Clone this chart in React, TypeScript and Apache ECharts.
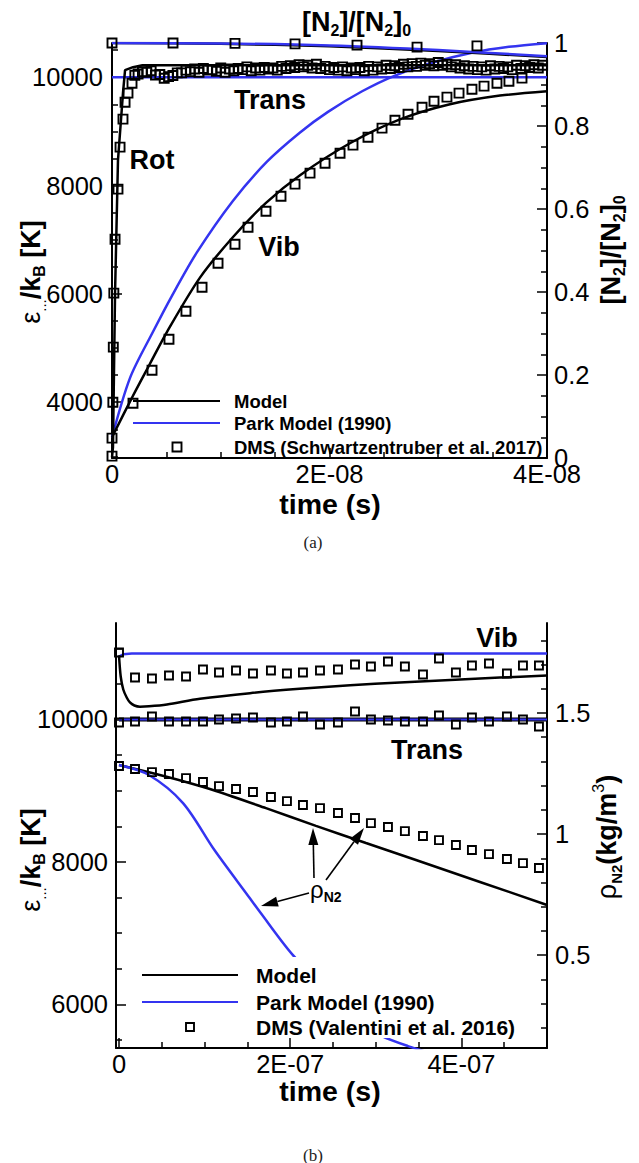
import React, { useEffect, useRef } from "react";
import * as echarts from "echarts";

const SANS = "'Liberation Sans', Arial, Helvetica, sans-serif";
const SERIF = "'Liberation Serif', 'Times New Roman', serif";
const BLUE = "#3434f0";
const BLACK = "#000000";

// ================= Panel (a): times in ns =================
const aTimeTicks = [0, 2e-8, 4e-8];
const aTimeLabels = ["0", "2E-08", "4E-08"];
const aTimeMinor = [5e-9, 1e-8, 1.5e-8, 2.5e-8, 3e-8, 3.5e-8];
const aTempTicks = [4000, 6000, 8000, 10000];
const aTempLabels = ["4000", "6000", "8000", "10000"];
const aTempMinor = [3000, 3500, 4500, 5000, 5500, 6500, 7000, 7500, 8500, 9000, 9500, 10500];
const aFracTicks = [0, 0.2, 0.4, 0.6, 0.8, 1];
const aFracLabels = ["0", "0.2", "0.4", "0.6", "0.8", "1"];
const aFracMinor = [0.05, 0.1, 0.15, 0.25, 0.3, 0.35, 0.45, 0.5, 0.55, 0.65, 0.7, 0.75, 0.85, 0.9, 0.95];

// Model
const aModelRotT = [0, 0.09, 0.28, 0.55, 1.01, 1.2, 1.93, 2.8, 40];
const aModelRotV = [2980, 3170, 6013, 8468, 9705, 10129, 10185, 10222, 10222];
const aModelVibT = [0, 1.93, 3.49, 5.06, 8.09, 11.13, 14.16, 17.29, 21.88, 26.48, 31.08, 35.68, 40];
const aModelVibV = [3354, 4120, 4710, 5300, 6300, 7050, 7680, 8191, 8780, 9220, 9500, 9660, 9742];
const aModelN2T = [0, 10, 20, 30, 40];
const aModelN2V = [1, 0.998, 0.992, 0.981, 0.966];
// Park Model (1990)
const aParkTransT = [0, 40];
const aParkTransV = [10000, 10000];
const aParkVibT = [0, 1.66, 3.77, 5.5, 7.82, 11.13, 14.25, 17.29, 19.86, 23, 26.02, 29.5, 33.1, 36.5, 40];
const aParkVibV = [3350, 4450, 5300, 5960, 6770, 7720, 8440, 8980, 9360, 9740, 10030, 10270, 10450, 10560, 10628];
const aParkN2T = [0, 10, 20, 30, 40];
const aParkN2V = [1, 0.999, 0.994, 0.983, 0.968];
// DMS (Schwartzentruber et al. 2017)
const aDmsRiseT = [0, 0.08, 0.12, 0.17, 0.28, 0.55, 0.74, 1.01, 1.2, 1.47, 1.84, 2.1];
const aDmsRiseV = [3004, 4000, 5016, 6013, 7009, 7933, 8708, 9225, 9538, 9705, 9889, 10037];
const aDmsTransT = [2.4, 3.2, 4.0, 4.8, 5.6, 6.4, 7.2, 8.0, 8.8, 9.6, 10.4, 11.2, 12.0, 12.8, 13.6, 14.4, 15.2, 16.0, 16.8, 17.6, 18.4, 19.2, 20.0, 20.8, 21.6, 22.4, 23.2, 24.0, 24.8, 25.6, 26.4, 27.2, 28.0, 28.8, 29.6, 30.4, 31.2, 32.0, 32.8, 33.6, 34.4, 35.2, 36.0, 36.8, 37.6, 38.4, 39.2];
const aDmsTransV = [10060, 10090, 10040, 9980, 10030, 10080, 10100, 10090, 10130, 10110, 10090, 10120, 10140, 10120, 10130, 10150, 10130, 10160, 10180, 10190, 10170, 10160, 10140, 10130, 10120, 10140, 10120, 10130, 10150, 10160, 10180, 10190, 10200, 10220, 10210, 10220, 10190, 10170, 10150, 10140, 10130, 10150, 10160, 10140, 10160, 10180, 10170];
const aDmsRotT = [2.8, 3.6, 4.4, 5.2, 6.0, 6.8, 7.6, 8.4, 9.2, 10.0, 10.8, 11.6, 12.4, 13.2, 14.0, 14.8, 15.6, 16.4, 17.2, 18.0, 18.8, 19.6, 20.4, 21.2, 22.0, 22.8, 23.6, 24.4, 25.2, 26.0, 26.8, 27.6, 28.4, 29.2, 30.0, 30.8, 31.6, 32.4, 33.2, 34.0, 34.8, 35.6, 36.4, 37.2, 38.0, 38.8, 39.6];
const aDmsRotV = [10100, 10120, 10050, 10010, 10080, 10130, 10150, 10160, 10140, 10170, 10150, 10160, 10190, 10170, 10180, 10170, 10200, 10210, 10230, 10220, 10240, 10200, 10180, 10190, 10170, 10180, 10200, 10190, 10220, 10210, 10240, 10250, 10260, 10250, 10270, 10240, 10230, 10210, 10200, 10190, 10210, 10200, 10190, 10220, 10210, 10230, 10220];
const aDmsVibT = [0, 1.93, 3.68, 5.24, 6.8, 8.28, 9.75, 11.31, 12.51, 14.16, 15.54, 16.83, 18.21, 19.59, 20.97, 22.16, 23.54, 24.83, 26.02, 27.22, 28.51, 29.61, 30.8, 31.91, 33.1, 34.21, 35.4, 36.5, 37.7];
const aDmsVibV = [3336, 3982, 4591, 5163, 5680, 6123, 6566, 6917, 7231, 7526, 7803, 8025, 8228, 8412, 8597, 8745, 8892, 9059, 9206, 9317, 9446, 9557, 9631, 9705, 9778, 9834, 9889, 9926, 9982];
const aDmsN2T = [0, 5.61, 11.31, 16.83, 22.53, 28.05, 33.56];
const aDmsN2V = [1, 1, 0.999, 0.998, 0.995, 0.99, 0.993];

// ================= Panel (b): times in units of 1e-7 s =================
const bTimeTicks = [0, 2e-7, 4e-7];
const bTimeLabels = ["0", "2E-07", "4E-07"];
const bTimeMinor = [5e-8, 1e-7, 1.5e-7, 2.5e-7, 3e-7, 3.5e-7, 4.5e-7];
const bTempTicks = [6000, 8000, 10000];
const bTempLabels = ["6000", "8000", "10000"];
const bTempMinor = [5500, 6500, 7000, 7500, 8500, 9000, 9500, 10500, 11000];
const bRhoTicks = [0.5, 1, 1.5];
const bRhoLabels = ["0.5", "1", "1.5"];
const bRhoMinor = [0.2, 0.3, 0.4, 0.6, 0.7, 0.8, 0.9, 1.1, 1.2, 1.3, 1.4, 1.6, 1.7, 1.8];

// Model
const bModelTransT = [0, 5];
const bModelTransV = [10000, 10000];
const bModelVibT = [0, 0.02, 0.05, 0.09, 0.128, 0.18, 0.245, 0.35, 0.56, 0.946, 1.53, 2.11, 2.7, 3.28, 3.87, 4.45, 5.0];
const bModelVibV = [10900, 10604, 10421, 10309, 10239, 10196, 10180, 10185, 10211, 10290, 10370, 10430, 10480, 10520, 10555, 10588, 10618];
const bModelRhoT = [0, 0.362, 0.75, 1.133, 1.717, 2.301, 2.885, 3.469, 4.217, 5.0];
const bModelRhoV = [1.285, 1.254, 1.218, 1.178, 1.107, 1.034, 0.963, 0.893, 0.802, 0.707];
// Park Model (1990)
const bParkTransT = [0, 5];
const bParkTransV = [10000, 10000];
const bParkVibT = [0, 0.05, 0.15, 5.0];
const bParkVibV = [10884, 10915, 10926, 10926];
const bParkRhoT = [0, 0.35, 0.748, 1.115, 1.518, 1.647, 2.032, 2.581, 2.873, 3.072, 3.376, 3.749];
const bParkRhoV = [1.285, 1.244, 1.128, 0.934, 0.74, 0.678, 0.5, 0.302, 0.211, 0.165, 0.124, 0.083];
// DMS (Valentini et al. 2016)
const bDmsT = [0, 0.187, 0.385, 0.584, 0.783, 0.981, 1.168, 1.367, 1.565, 1.775, 1.962, 2.149, 2.348, 2.558, 2.757, 2.943, 3.142, 3.34, 3.551, 3.738, 3.936, 4.123, 4.322, 4.532, 4.719, 4.906];
const bDmsVibV = [10940, 10589, 10575, 10618, 10604, 10702, 10660, 10688, 10646, 10688, 10646, 10660, 10688, 10702, 10772, 10744, 10814, 10744, 10632, 10856, 10660, 10758, 10786, 10646, 10758, 10758];
const bDmsTransV = [9958, 9972, 10042, 9972, 9972, 9972, 10000, 10014, 10028, 9958, 9972, 10042, 9930, 9958, 10112, 10000, 9986, 9972, 9972, 10056, 9930, 10028, 9972, 10042, 10000, 9902];
const bDmsRhoV = [1.281, 1.269, 1.256, 1.248, 1.231, 1.215, 1.198, 1.186, 1.174, 1.153, 1.136, 1.12, 1.107, 1.087, 1.066, 1.045, 1.029, 1.012, 0.992, 0.975, 0.955, 0.934, 0.917, 0.897, 0.88, 0.86];

const NS = 1e-9;
const E7 = 1e-7;
const toPairs = (t: number[], v: number[], unit: number) => t.map((x, i) => [x * unit, v[i]]);

const pickLabel = (ticks: number[], labels: string[]) => (value: number) => {
  let best = 0;
  for (let i = 1; i < ticks.length; i++) {
    if (Math.abs(ticks[i] - value) < Math.abs(ticks[best] - value)) best = i;
  }
  return labels[best];
};

const tickLine = { color: BLACK, width: 1.5 };

function majorAxis(gridIndex: number, min: number, max: number, ticks: number[], labels: string[], position: string, margin: number) {
  return {
    type: "value",
    gridIndex,
    min,
    max,
    position,
    axisLine: { show: true, onZero: false, lineStyle: { color: BLACK, width: 2 } },
    axisTick: { show: true, inside: true, length: 10, customValues: ticks, lineStyle: tickLine },
    axisLabel: {
      show: true,
      customValues: ticks,
      formatter: pickLabel(ticks, labels),
      fontFamily: SANS,
      fontSize: 25.5,
      lineHeight: 16,
      color: BLACK,
      margin,
    },
    splitLine: { show: false },
  };
}

function minorAxis(gridIndex: number, min: number, max: number, ticks: number[], position: string) {
  return {
    type: "value",
    gridIndex,
    min,
    max,
    position,
    axisLine: { show: false, onZero: false },
    axisTick: { show: true, inside: true, length: 6, customValues: ticks, lineStyle: tickLine },
    axisLabel: { show: false },
    splitLine: { show: false },
  };
}

function line(data: number[][], xi: number, yi: number, color: string, width: number, z: number, smooth: number | boolean) {
  return {
    type: "line",
    data,
    xAxisIndex: xi,
    yAxisIndex: yi,
    symbol: "none",
    showSymbol: false,
    smooth,
    clip: true,
    silent: true,
    z,
    lineStyle: { color, width, opacity: 1 },
    itemStyle: { color },
  };
}

function squares(data: number[][], xi: number, yi: number, size: number) {
  return {
    type: "scatter",
    data,
    xAxisIndex: xi,
    yAxisIndex: yi,
    symbol: "rect",
    symbolSize: size,
    clip: false,
    silent: true,
    z: 5,
    itemStyle: { color: "rgba(255,255,255,0)", borderColor: BLACK, borderWidth: 1.9, opacity: 1 },
  };
}

// rich-text fragments for titles
const big = (size: number, weight: string) => ({ fontFamily: SANS, fontSize: size, fontWeight: weight, lineHeight: size + 6, verticalAlign: "middle", fill: BLACK });
const sub = (size: number, weight: string) => ({ fontFamily: SANS, fontSize: size, fontWeight: weight, lineHeight: size, verticalAlign: "bottom", fill: BLACK });
const sup = (size: number, weight: string) => ({ fontFamily: SANS, fontSize: size, fontWeight: weight, lineHeight: size, verticalAlign: "top", fill: BLACK });

const energyRich = { r: big(27, "normal"), d: sub(15, "normal"), b: big(27, "bold"), s: sub(16, "bold") };
const energyText = "{r|ε}{d|...}{b|/k}{s|B}{b| [K]}";
const n2Rich = { b: big(27, "bold"), s: sub(16, "bold") };
const n2Text = "{b|[N}{s|2}{b|]/[N}{s|2}{b|]}{s|0}";
const rhoRich = { r: big(27, "normal"), s: sub(15, "bold"), b: big(27, "bold"), p: sup(16, "normal") };
const rhoText = "{r|ρ}{s|N2}{b|(kg/m}{p|3}{b|)}";

function text(x: number, y: number, content: string, opts: any = {}) {
  const { rotation = 0, align = "center", rich, size = 27, weight = "bold", family = SANS, fill = BLACK, extra = {} } = opts;
  return {
    type: "text",
    x,
    y,
    rotation,
    z: 100,
    silent: true,
    style: {
      text: content,
      x: 0,
      y: 0,
      align,
      verticalAlign: "middle",
      textAlign: align,
      textVerticalAlign: "middle",
      fontFamily: family,
      fontSize: size,
      fontWeight: weight,
      fill,
      rich,
      ...extra,
    },
  };
}

function hline(x1: number, x2: number, y: number, color: string) {
  return { type: "line", z: 100, silent: true, shape: { x1, y1: y, x2, y2: y }, style: { stroke: color, lineWidth: 2 } };
}

function legendSquare(cx: number, cy: number, size: number) {
  return {
    type: "rect",
    z: 100,
    silent: true,
    shape: { x: cx - size / 2, y: cy - size / 2, width: size, height: size },
    style: { fill: "none", stroke: BLACK, lineWidth: 1.9 },
  };
}

function arrow(tx: number, ty: number, hx: number, hy: number) {
  const dx = hx - tx;
  const dy = hy - ty;
  const len = Math.hypot(dx, dy);
  const ux = dx / len;
  const uy = dy / len;
  const headLen = 17;
  const halfW = 5;
  const bx = hx - ux * headLen;
  const by = hy - uy * headLen;
  return [
    { type: "line", z: 100, silent: true, shape: { x1: tx, y1: ty, x2: bx, y2: by }, style: { stroke: BLACK, lineWidth: 1.6 } },
    {
      type: "polygon",
      z: 100,
      silent: true,
      shape: { points: [[hx, hy], [bx - uy * halfW, by + ux * halfW], [bx + uy * halfW, by - ux * halfW]] },
      style: { fill: BLACK },
    },
  ];
}

function buildOption() {
  const xAxis = [
    majorAxis(0, 0, 4e-8, aTimeTicks, aTimeLabels, "bottom", 8),
    minorAxis(0, 0, 4e-8, aTimeMinor, "bottom"),
    majorAxis(1, -3.5e-9, 5e-7, bTimeTicks, bTimeLabels, "bottom", 8),
    minorAxis(1, -3.5e-9, 5e-7, bTimeMinor, "bottom"),
  ];
  const yAxis = [
    majorAxis(0, 2970, 10631, aTempTicks, aTempLabels, "left", 9),
    minorAxis(0, 2970, 10631, aTempMinor, "left"),
    majorAxis(0, 0, 1, aFracTicks, aFracLabels, "right", 7),
    minorAxis(0, 0, 1, aFracMinor, "right"),
    majorAxis(1, 5386, 11355, bTempTicks, bTempLabels, "left", 8),
    minorAxis(1, 5386, 11355, bTempMinor, "left"),
    majorAxis(1, 0.116, 1.872, bRhoTicks, bRhoLabels, "right", 8),
    minorAxis(1, 0.116, 1.872, bRhoMinor, "right"),
  ];

  const series = [
    // (a) Park model
    line(toPairs(aParkTransT, aParkTransV, NS), 0, 0, BLUE, 2.5, 2, false),
    line(toPairs(aParkVibT, aParkVibV, NS), 0, 0, BLUE, 2.5, 2, 0.3),
    // (a) Model
    line(toPairs(aModelRotT, aModelRotV, NS), 0, 0, BLACK, 2.5, 3, false),
    line(toPairs(aModelVibT, aModelVibV, NS), 0, 0, BLACK, 2.5, 3, 0.3),
    line(toPairs(aModelN2T, aModelN2V, NS), 0, 2, BLACK, 2.5, 3, 0.3),
    line(toPairs(aParkN2T, aParkN2V, NS), 0, 2, BLUE, 2.5, 3, 0.3),
    // (a) DMS
    squares(toPairs(aDmsRiseT, aDmsRiseV, NS), 0, 0, 9),
    squares(toPairs(aDmsTransT, aDmsTransV, NS), 0, 0, 9),
    squares(toPairs(aDmsRotT, aDmsRotV, NS), 0, 0, 9),
    squares(toPairs(aDmsVibT, aDmsVibV, NS), 0, 0, 9),
    squares(toPairs(aDmsN2T, aDmsN2V, NS), 0, 2, 9),

    // (b) Model translation drawn under the Park line at 10000 K
    line(toPairs(bModelTransT, bModelTransV, E7), 2, 4, BLACK, 4, 2, false),
    line(toPairs(bParkTransT, bParkTransV, E7), 2, 4, BLUE, 2, 3, false),
    line(toPairs(bParkVibT, bParkVibV, E7), 2, 4, BLUE, 2.5, 3, false),
    line(toPairs(bModelVibT, bModelVibV, E7), 2, 4, BLACK, 2.5, 3, 0.3),
    line(toPairs(bModelRhoT, bModelRhoV, E7), 2, 6, BLACK, 2.5, 3, 0.3),
    line(toPairs(bParkRhoT, bParkRhoV, E7), 2, 6, BLUE, 2.5, 3, 0.3),
    squares(toPairs(bDmsT, bDmsVibV, E7), 2, 4, 8),
    squares(toPairs(bDmsT, bDmsTransV, E7), 2, 4, 8),
    squares(toPairs(bDmsT, bDmsRhoV, E7), 2, 6, 8),
  ];

  const graphic: any[] = [
    // ---- panel (a) annotations ----
    text(302, 22, n2Text, { align: "left", rich: n2Rich, extra: { backgroundColor: "#ffffff", lineHeight: 40, padding: [0, 2, 0, 0] } }),
    text(270, 100, "Trans"),
    text(152, 160, "Rot"),
    text(279, 247, "Vib"),
    text(330, 504, "time (s)", { size: 28.5, extra: { lineHeight: 26 } }),
    text(31, 272, energyText, { rotation: Math.PI / 2, rich: energyRich }),
    text(611, 250, n2Text, { rotation: Math.PI / 2, rich: n2Rich }),
    hline(133, 220, 401, BLACK),
    hline(133, 220, 423, BLUE),
    legendSquare(177, 447, 9),
    text(234, 401, "Model", { align: "left", size: 18.5 }),
    text(234, 423, "Park Model (1990)", { align: "left", size: 18.5 }),
    text(234, 447, "DMS (Schwartzentruber et al. 2017)", { align: "left", size: 18.5 }),
    text(313, 542, "(a)", { size: 17, weight: "normal", family: SERIF, fill: "#222" }),

    // ---- panel (b) annotations ----
    text(497, 638, "Vib"),
    text(427, 750, "Trans"),
    text(330, 1091, "time (s)", { size: 28.5, extra: { lineHeight: 26 } }),
    text(31, 860, energyText, { rotation: Math.PI / 2, rich: energyRich }),
    text(607, 837, rhoText, { rotation: Math.PI / 2, rich: rhoRich }),
    {
      type: "rect",
      z: 90,
      silent: true,
      shape: { x: 128, y: 957, width: 402, height: 81 },
      style: { fill: "#ffffff" },
    },
    hline(142, 238, 975, BLACK),
    hline(142, 238, 1002, BLUE),
    legendSquare(190, 1027, 8),
    text(256, 975, "Model", { align: "left", size: 21 }),
    text(256, 1002, "Park Model (1990)", { align: "left", size: 21 }),
    text(256, 1027, "DMS (Valentini et al. 2016)", { align: "left", size: 21 }),
    text(310, 889, "{r|ρ}{s|N2}", { align: "left", rich: { r: big(24, "normal"), s: sub(14, "bold") } }),
    ...arrow(314, 878, 313, 828),
    ...arrow(326, 880, 364, 828),
    ...arrow(309, 893, 261, 906),
    text(313, 1155, "(b)", { size: 17, weight: "normal", family: SERIF, fill: "#222" }),
  ];

  return {
    animation: false,
    backgroundColor: "#ffffff",
    textStyle: { fontFamily: SANS },
    grid: [
      { left: 112, top: 43, width: 435, height: 415, containLabel: false, outerBoundsMode: "none" },
      { left: 116, top: 623, width: 431, height: 425, containLabel: false, outerBoundsMode: "none" },
    ],
    xAxis,
    yAxis,
    series,
    graphic: { elements: graphic },
  };
}

export default function App() {
  const ref = useRef<HTMLDivElement>(null);
  useEffect(() => {
    if (!ref.current) return;
    const chart = echarts.init(ref.current, null, { renderer: "svg" });
    chart.setOption(buildOption() as any);
    return () => chart.dispose();
  }, []);
  return (
    <div
      ref={ref}
      style={{ position: "absolute", left: 0, top: 0, width: 639, height: 1163, background: "#ffffff" }}
    />
  );
}
